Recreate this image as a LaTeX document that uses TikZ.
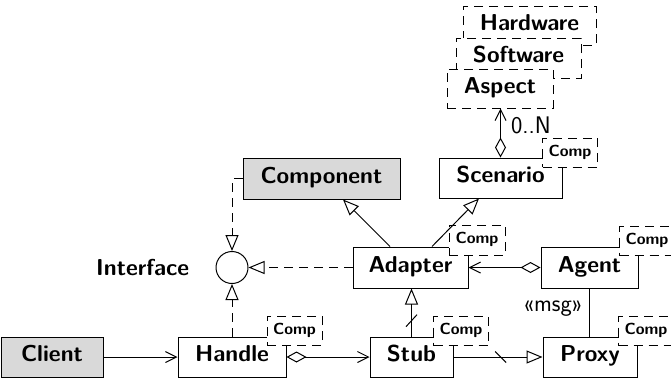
\documentclass[tikz,border=0pt]{standalone}
\usetikzlibrary{arrows.meta,calc}
\begin{document}
\begin{tikzpicture}[x=1pt,y=-1pt,
  line width=1pt,
  lbl/.style={font=\fontsize{23}{26}\selectfont\sffamily\bfseries},
  umlbox/.style={draw,fill=white,inner sep=0pt,lbl,text height=16pt,text depth=6.5pt},
  graybox/.style={umlbox,fill=gray!30},
  dashbox/.style={umlbox,dash pattern=on 9pt off 6pt},
  tagbox/.style={draw,fill=white,inner sep=0pt,dash pattern=on 9pt off 6pt,
    minimum width=55pt,minimum height=29pt,
    font=\fontsize{16}{18}\selectfont\sffamily\bfseries,text height=11pt,text depth=3.5pt},
  plain/.style={font=\fontsize{24}{27}\selectfont\sffamily},
  barb/.style={-{Straight Barb[length=11pt,width=11pt]}},
  realize/.style={-{Triangle[open,length=16pt,width=13pt]}},
  aggr/.style={{Diamond[open,length=20pt,width=11pt]}-{Straight Barb[length=11pt,width=11pt]}},
  dashline/.style={dash pattern=on 9pt off 6pt}
]
\useasboundingbox (0,0) rectangle (671,381);

% main boxes
\node[graybox,minimum width=102pt,minimum height=40pt] (client) at (52,357) {Client};
\node[umlbox,minimum width=108pt,minimum height=40pt] (handle) at (232,357) {Handle};
\node[umlbox,minimum width=83pt,minimum height=40pt] (stub) at (411.5,357) {Stub};
\node[umlbox,minimum width=94pt,minimum height=40pt] (proxy) at (590,357) {Proxy};
\node[umlbox,minimum width=115pt,minimum height=41pt] (adapter) at (410.5,267.5) {Adapter};
\node[umlbox,minimum width=97pt,minimum height=41pt] (agent) at (589.5,267.5) {Agent};
\node[graybox,minimum width=157pt,minimum height=41pt] (component) at (321.5,178.5) {Component};
\node[umlbox,minimum width=123pt,minimum height=40pt] (scenario) at (500.5,178) {Scenario};

% stacked aspects
\node[dashbox,minimum width=133pt,minimum height=39pt] (hardware) at (529.5,25.5) {Hardware};
\node[dashbox,minimum width=125pt,minimum height=40pt] (software) at (518.5,58) {Software};
\node[dashbox,minimum width=106pt,minimum height=39pt] (aspect) at (500,88.5) {Aspect};

% tags
\node[tagbox] (handletag) at (294.5,330.5) {Comp};
\node[tagbox] (stubtag) at (461,331) {Comp};
\node[tagbox] (proxytag) at (646,331) {Comp};
\node[tagbox,minimum width=56pt,minimum height=30pt] (adaptertag) at (477,240) {Comp};
\node[tagbox] (agenttag) at (647,241) {Comp};
\node[tagbox] (scenariotag) at (570,152.5) {Comp};

% interface
\node[draw,circle,minimum size=32pt,inner sep=0pt] (iface) at (232,267.5) {};
\node[lbl,anchor=east] (ifacelbl) at (193,268) {Interface};

% connectors
\draw[barb] (client.east) -- (handle.west);
\draw[aggr] (handle.east) -- (stub.west);
\draw[realize] (stub.east) -- coordinate[pos=0.53] (s1) (proxy.west);
\draw ($(s1)+(-5.5,-5.5)$) -- ($(s1)+(5.5,5.5)$);
\draw[realize] (stub.north) -- coordinate[pos=0.33] (s2) (stub.north |- adapter.south);
\draw ($(s2)+(-5.5,6)$) -- ($(s2)+(5.5,-6)$);
\draw[aggr] (agent.west) -- (adapter.east);
\draw (agent.south) -- (agent.south |- proxy.north);
\node[plain] (msg) at (553,309) {«msg»};
\draw[realize] (390,0 |- adapter.north) -- (343,0 |- component.south);
\draw[realize] (432,0 |- adapter.north) -- (479,0 |- scenario.south);
\draw[realize,dashline] (adapter.west) -- (iface.east);
\draw[realize,dashline] (handle.north) -- (iface.south);
\draw[realize,dashline] (component.west) -| (iface.north);
\draw[aggr] (scenario.north) -- (scenario.north |- aspect.south);
\node[plain] (card) at (531,125) {0..N};
\end{tikzpicture}
\end{document}
